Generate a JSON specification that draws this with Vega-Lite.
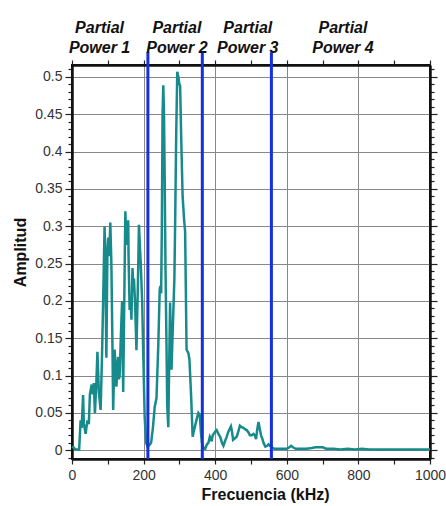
{
  "$schema": "https://vega.github.io/schema/vega-lite/v6.json",
  "width": 358,
  "height": 394,
  "autosize": {"type": "none"},
  "padding": {"left": 72, "top": 65, "right": 16, "bottom": 47},
  "background": "white",
  "config": {
    "font": "Liberation Sans",
    "view": {"stroke": "#111", "strokeWidth": 2},
    "axis": {
      "domainColor": "#111",
      "domainWidth": 2.5,
      "tickColor": "#222",
      "tickWidth": 1.2,
      "labelFont": "Liberation Sans",
      "labelFontSize": 14,
      "labelColor": "#333",
      "labelOverlap": false,
      "labelFlush": false,
      "titleFont": "Liberation Sans",
      "titleFontSize": 16,
      "titleFontWeight": "bold",
      "titleColor": "#111",
      "gridColor": "#888",
      "gridWidth": 1
    }
  },
  "datasets": {
    "spectrum": [
      {"f": 0, "a": 0.005}, {"f": 4, "a": 0.004}, {"f": 10, "a": 0.001}, {"f": 20, "a": 0.001},
      {"f": 24, "a": 0.04}, {"f": 27, "a": 0.03}, {"f": 31, "a": 0.074}, {"f": 33, "a": 0.036},
      {"f": 38, "a": 0.022}, {"f": 43, "a": 0.04}, {"f": 47, "a": 0.035}, {"f": 50, "a": 0.075},
      {"f": 55, "a": 0.088}, {"f": 58, "a": 0.075}, {"f": 61, "a": 0.09}, {"f": 64, "a": 0.05},
      {"f": 68, "a": 0.09}, {"f": 71, "a": 0.132}, {"f": 75, "a": 0.078}, {"f": 80, "a": 0.054},
      {"f": 84, "a": 0.13}, {"f": 87, "a": 0.2}, {"f": 91, "a": 0.3}, {"f": 93, "a": 0.25},
      {"f": 96, "a": 0.124}, {"f": 99, "a": 0.27}, {"f": 101, "a": 0.285}, {"f": 104, "a": 0.26},
      {"f": 107, "a": 0.305}, {"f": 110, "a": 0.25}, {"f": 113, "a": 0.14}, {"f": 115, "a": 0.054},
      {"f": 119, "a": 0.135}, {"f": 121, "a": 0.12}, {"f": 124, "a": 0.085}, {"f": 127, "a": 0.11},
      {"f": 129, "a": 0.125}, {"f": 131, "a": 0.095}, {"f": 133, "a": 0.1}, {"f": 137, "a": 0.16},
      {"f": 140, "a": 0.2}, {"f": 143, "a": 0.078}, {"f": 146, "a": 0.2}, {"f": 149, "a": 0.32},
      {"f": 152, "a": 0.275}, {"f": 155, "a": 0.29}, {"f": 157, "a": 0.308}, {"f": 158, "a": 0.26},
      {"f": 161, "a": 0.188}, {"f": 164, "a": 0.2}, {"f": 166, "a": 0.175}, {"f": 169, "a": 0.244},
      {"f": 171, "a": 0.22}, {"f": 173, "a": 0.23}, {"f": 176, "a": 0.2}, {"f": 180, "a": 0.134},
      {"f": 184, "a": 0.22}, {"f": 187, "a": 0.302}, {"f": 190, "a": 0.27}, {"f": 192, "a": 0.25},
      {"f": 196, "a": 0.2}, {"f": 199, "a": 0.13}, {"f": 203, "a": 0.045}, {"f": 207, "a": 0.01},
      {"f": 211, "a": 0.005}, {"f": 216, "a": 0.007}, {"f": 221, "a": 0.01}, {"f": 226, "a": 0.03},
      {"f": 231, "a": 0.058}, {"f": 236, "a": 0.07}, {"f": 241, "a": 0.14}, {"f": 245, "a": 0.215},
      {"f": 247, "a": 0.22}, {"f": 249, "a": 0.21}, {"f": 251, "a": 0.3}, {"f": 253, "a": 0.45},
      {"f": 255, "a": 0.489}, {"f": 257, "a": 0.45}, {"f": 259, "a": 0.36}, {"f": 261, "a": 0.25},
      {"f": 264, "a": 0.14}, {"f": 266, "a": 0.06}, {"f": 269, "a": 0.031}, {"f": 271, "a": 0.1},
      {"f": 274, "a": 0.198}, {"f": 276, "a": 0.15}, {"f": 278, "a": 0.108}, {"f": 280, "a": 0.14},
      {"f": 283, "a": 0.185}, {"f": 286, "a": 0.23}, {"f": 288, "a": 0.3}, {"f": 291, "a": 0.42},
      {"f": 294, "a": 0.507}, {"f": 297, "a": 0.5}, {"f": 300, "a": 0.49}, {"f": 302, "a": 0.488},
      {"f": 305, "a": 0.42}, {"f": 309, "a": 0.34}, {"f": 313, "a": 0.31}, {"f": 316, "a": 0.293},
      {"f": 320, "a": 0.135}, {"f": 325, "a": 0.13}, {"f": 328, "a": 0.122}, {"f": 333, "a": 0.07},
      {"f": 337, "a": 0.018}, {"f": 340, "a": 0.025}, {"f": 345, "a": 0.035}, {"f": 350, "a": 0.045},
      {"f": 353, "a": 0.05}, {"f": 357, "a": 0.047}, {"f": 360, "a": 0.025}, {"f": 363, "a": 0.01},
      {"f": 367, "a": 0.003}, {"f": 372, "a": 0.002}, {"f": 377, "a": 0.008}, {"f": 381, "a": 0.01},
      {"f": 385, "a": 0.018}, {"f": 388, "a": 0.015}, {"f": 390, "a": 0.012}, {"f": 393, "a": 0.02},
      {"f": 396, "a": 0.022}, {"f": 400, "a": 0.025}, {"f": 404, "a": 0.027}, {"f": 409, "a": 0.022},
      {"f": 414, "a": 0.018}, {"f": 419, "a": 0.01}, {"f": 423, "a": 0.006}, {"f": 428, "a": 0.013},
      {"f": 432, "a": 0.018}, {"f": 436, "a": 0.024}, {"f": 440, "a": 0.028}, {"f": 444, "a": 0.032},
      {"f": 447, "a": 0.025}, {"f": 450, "a": 0.014}, {"f": 455, "a": 0.016}, {"f": 460, "a": 0.018},
      {"f": 465, "a": 0.026}, {"f": 469, "a": 0.033}, {"f": 474, "a": 0.031}, {"f": 479, "a": 0.03},
      {"f": 484, "a": 0.028}, {"f": 488, "a": 0.027}, {"f": 493, "a": 0.024}, {"f": 497, "a": 0.02},
      {"f": 502, "a": 0.02}, {"f": 507, "a": 0.022}, {"f": 511, "a": 0.02}, {"f": 514, "a": 0.015},
      {"f": 518, "a": 0.03}, {"f": 521, "a": 0.038}, {"f": 524, "a": 0.03}, {"f": 528, "a": 0.02},
      {"f": 532, "a": 0.015}, {"f": 535, "a": 0.01}, {"f": 540, "a": 0.005}, {"f": 545, "a": 0.006},
      {"f": 549, "a": 0.008}, {"f": 553, "a": 0.006}, {"f": 558, "a": 0.004}, {"f": 565, "a": 0.002},
      {"f": 575, "a": 0.002}, {"f": 590, "a": 0.002}, {"f": 600, "a": 0.002}, {"f": 607, "a": 0.004},
      {"f": 612, "a": 0.006}, {"f": 617, "a": 0.004}, {"f": 625, "a": 0.002}, {"f": 640, "a": 0.002},
      {"f": 655, "a": 0.002}, {"f": 670, "a": 0.003}, {"f": 680, "a": 0.004}, {"f": 690, "a": 0.004},
      {"f": 700, "a": 0.004}, {"f": 710, "a": 0.002}, {"f": 730, "a": 0.002}, {"f": 750, "a": 0.001},
      {"f": 770, "a": 0.002}, {"f": 790, "a": 0.001}, {"f": 810, "a": 0.002}, {"f": 830, "a": 0.001},
      {"f": 860, "a": 0.001}, {"f": 900, "a": 0.001}, {"f": 950, "a": 0.001}, {"f": 1000, "a": 0.001}
    ],
    "bounds": [{"f": 212}, {"f": 364}, {"f": 557}],
    "bands": [
      {"f": 77, "label": "Partial\nPower 1"},
      {"f": 293, "label": "Partial\nPower 2"},
      {"f": 491, "label": "Partial\nPower 3"},
      {"f": 757, "label": "Partial\nPower 4"}
    ]
  },
  "resolve": {"axis": {"x": "independent", "y": "independent"}},
  "layer": [
    {
      "data": {"name": "spectrum"},
      "mark": {"type": "line", "color": "#178b8b", "strokeWidth": 2.5},
      "encoding": {
        "x": {
          "field": "f", "type": "quantitative",
          "scale": {"domain": [0, 1000], "nice": false, "zero": false},
          "axis": {
            "orient": "bottom",
            "title": "Frecuencia (kHz)",
            "values": [0, 100, 200, 300, 400, 500, 600, 700, 800, 900, 1000],
            "labelExpr": "datum.value % 200 == 0 ? format(datum.value, 'd') : ''",
            "tickSize": 5,
            "labelPadding": 4,
            "grid": true,
            "gridOpacity": {"condition": {"test": "datum.value % 200 == 0 && datum.value > 0 && datum.value < 1000", "value": 1}, "value": 0},
            "titlePadding": 4,
            "titleX": 193
          }
        },
        "y": {
          "field": "a", "type": "quantitative",
          "scale": {"domain": [-0.0117, 0.516], "nice": false, "zero": false},
          "axis": {
            "orient": "left",
            "title": "Amplitud",
            "values": [-0.01, 0, 0.01, 0.02, 0.03, 0.04, 0.05, 0.06, 0.07, 0.08, 0.09, 0.1, 0.11, 0.12, 0.13, 0.14, 0.15, 0.16, 0.17, 0.18, 0.19, 0.2, 0.21, 0.22, 0.23, 0.24, 0.25, 0.26, 0.27, 0.28, 0.29, 0.3, 0.31, 0.32, 0.33, 0.34, 0.35, 0.36, 0.37, 0.38, 0.39, 0.4, 0.41, 0.42, 0.43, 0.44, 0.45, 0.46, 0.47, 0.48, 0.49, 0.5, 0.51],
            "labelExpr": "abs(datum.value * 20 - round(datum.value * 20)) < 0.001 ? format(datum.value, '.2~f') : ''",
            "tickSize": {"condition": {"test": "abs(datum.value * 20 - round(datum.value * 20)) < 0.001", "value": 7}, "value": 4},
            "labelPadding": 3,
            "grid": true,
            "gridOpacity": {"condition": {"test": "abs(datum.value * 20 - round(datum.value * 20)) < 0.001", "value": 1}, "value": 0},
            "titlePadding": 6,
            "titleY": 187
          }
        }
      }
    },
    {
      "data": {"name": "bounds"},
      "mark": {"type": "rule", "color": "#1530dc", "strokeWidth": 3},
      "encoding": {
        "x": {
          "field": "f", "type": "quantitative",
          "scale": {"domain": [0, 1000], "nice": false, "zero": false},
          "axis": {
            "orient": "top",
            "title": null,
            "values": [0, 100, 200, 300, 400, 500, 600, 700, 800, 900, 1000],
            "labels": false,
            "tickSize": 5,
            "grid": false
          }
        },
        "y": {
          "datum": -0.0117, "type": "quantitative",
          "scale": {"domain": [-0.0117, 0.516], "nice": false, "zero": false},
          "axis": {
            "orient": "right",
            "title": null,
            "values": [-0.01, 0, 0.01, 0.02, 0.03, 0.04, 0.05, 0.06, 0.07, 0.08, 0.09, 0.1, 0.11, 0.12, 0.13, 0.14, 0.15, 0.16, 0.17, 0.18, 0.19, 0.2, 0.21, 0.22, 0.23, 0.24, 0.25, 0.26, 0.27, 0.28, 0.29, 0.3, 0.31, 0.32, 0.33, 0.34, 0.35, 0.36, 0.37, 0.38, 0.39, 0.4, 0.41, 0.42, 0.43, 0.44, 0.45, 0.46, 0.47, 0.48, 0.49, 0.5, 0.51],
            "labels": false,
            "tickSize": {"condition": {"test": "abs(datum.value * 20 - round(datum.value * 20)) < 0.001", "value": 7}, "value": 4},
            "grid": false
          }
        },
        "y2": {"datum": 0.533}
      }
    },
    {
      "data": {"name": "bands"},
      "mark": {
        "type": "text", "font": "Liberation Sans", "fontSize": 16, "fontWeight": "bold", "fontStyle": "italic",
        "color": "#111", "align": "center", "baseline": "middle", "lineBreak": "\n", "lineHeight": 20
      },
      "encoding": {
        "x": {"field": "f", "type": "quantitative", "scale": {"domain": [0, 1000], "nice": false, "zero": false}, "axis": null},
        "y": {"datum": 0.565, "type": "quantitative", "scale": {"domain": [-0.0117, 0.516], "nice": false, "zero": false}, "axis": null},
        "text": {"field": "label"}
      }
    }
  ]
}
